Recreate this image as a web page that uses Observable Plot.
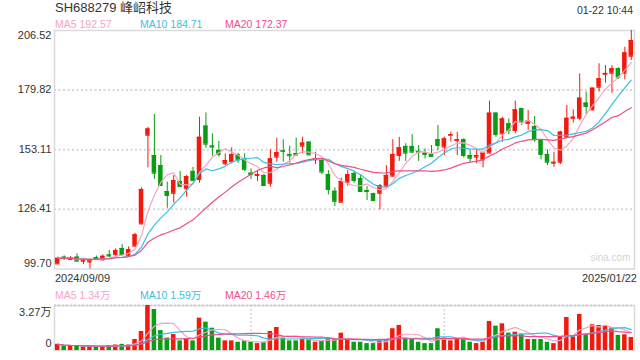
<!DOCTYPE html>
<html><head><meta charset="utf-8">
<script src="https://cdn.jsdelivr.net/npm/d3@7"></script>
<script src="https://cdn.jsdelivr.net/npm/@observablehq/plot@0.6"></script>
<style>
body{margin:0;background:#fff;}
#wrap{position:relative;width:640px;height:360px;font-family:"Liberation Sans",Arial,"Noto Sans CJK SC",sans-serif;overflow:hidden;background:#fff}
.t{position:absolute;white-space:nowrap;line-height:1}
.p{position:absolute;left:0}
</style></head><body>
<div id="wrap">
  <div id="price" class="p" style="top:0"></div>
  <div id="vol" class="p" style="top:300px"></div>
</div>
<script>
const title = "SH688279 峰岹科技";
const timeLabel = "01-22 10:44";
const dateLabels = ["2024/09/09", "2025/01/22"];
const priceMaLabels = ["MA5 192.57", "MA10 184.71", "MA20 172.37"];
const volMaLabels = ["MA5 1.34万", "MA10 1.59万", "MA20 1.46万"];
const maColors = ["#f7a3c4", "#3cc0e2", "#ee4f8a"];
const priceTicks = [99.70, 126.41, 153.11, 179.82, 206.52];
const volTicks = [0, 3.27];

const opens = [102.0,105.0,104.0,105.0,103.2,102.8,104.8,103.8,106.0,106.1,
108.9,105.6,109.9,119.9,159.6,150.5,146.0,134.4,133.6,138.9,
135.6,143.4,139.8,163.7,154.8,152.8,146.8,147.8,150.8,148.6,
142.6,141.6,141.6,138.1,149.8,152.6,151.0,151.4,154.7,156.5,
148.6,148.3,142.0,134.5,129.6,138.6,142.5,140.2,134.8,133.4,
133.6,136.8,141.3,150.5,154.6,154.6,152.4,151.6,151.0,157.6,
154.3,159.6,157.2,157.6,150.5,149.8,148.6,151.6,169.5,160.2,
164.7,161.7,171.5,164.9,163.5,157.2,151.0,147.1,147.5,158.7,
167.2,167.2,174.0,171.0,181.1,186.9,187.4,189.4,187.4,195.0];
const highs = [105.0,105.6,105.3,106.5,104.5,104.3,105.5,106.0,108.0,108.7,
110.7,109.6,115.7,136.0,163.2,168.9,150.5,138.6,141.6,143.4,
141.7,145.2,167.7,169.6,160.2,156.8,151.3,154.0,151.5,151.3,
144.5,143.8,142.0,153.1,158.3,157.6,154.7,158.3,158.7,156.6,
152.0,149.0,143.8,136.0,140.5,143.8,143.5,141.6,136.6,133.7,
137.5,146.0,157.6,158.7,155.8,159.9,155.0,153.5,155.0,164.0,
158.7,161.0,161.0,158.0,152.8,153.1,152.0,174.9,169.6,167.7,
166.9,174.9,171.5,170.7,168.0,157.3,153.1,152.0,161.4,172.9,
171.0,187.1,178.9,180.7,191.6,190.8,190.8,189.9,199.0,206.52];
const lows = [101.7,103.5,103.5,102.8,101.6,99.7,103.8,103.3,104.9,104.9,
105.5,104.9,109.4,119.5,145.0,139.8,137.1,126.9,129.2,136.3,
131.9,139.0,138.1,153.8,150.1,149.8,146.0,146.8,147.1,143.4,
139.8,138.9,137.0,136.3,147.5,147.5,147.1,150.4,151.3,150.6,
146.5,142.0,132.9,127.7,129.5,136.8,138.1,134.1,130.4,130.0,
126.2,136.3,140.8,147.9,147.9,151.8,147.9,149.0,149.8,152.8,
150.5,156.5,150.5,149.5,147.5,146.8,145.0,151.6,158.7,156.5,
159.8,160.2,164.0,161.7,156.5,148.6,146.0,145.3,146.5,158.7,
165.0,166.2,168.9,170.5,178.9,182.9,178.4,184.6,184.4,193.1];
const closes = [104.5,104.4,104.8,103.2,103.7,103.6,104.4,105.4,105.5,108.0,
106.2,108.3,115.0,135.3,162.4,142.6,137.1,132.6,139.3,136.6,
141.1,139.3,158.7,155.6,154.3,151.0,148.3,151.0,148.6,144.3,
142.0,142.0,137.1,149.0,151.8,152.4,150.4,150.7,156.1,150.8,
149.0,143.1,135.3,130.0,138.9,142.0,139.3,134.4,134.4,130.4,
137.1,141.6,151.0,154.0,151.6,152.0,152.0,151.0,150.1,155.0,
158.0,159.9,157.6,150.5,149.3,150.5,151.6,169.5,159.9,166.9,
161.7,171.0,165.9,165.9,157.6,151.0,147.5,147.5,161.0,167.2,
167.7,176.2,172.5,180.7,184.9,187.3,189.4,185.6,196.5,202.0];
const volumes = [0.45,0.35,0.30,0.35,0.25,0.30,0.25,0.30,0.35,0.40,
0.45,0.40,0.80,1.38,3.27,2.98,1.45,0.90,1.16,0.70,
0.80,0.70,2.35,2.06,1.62,0.90,0.70,0.70,0.60,0.70,
0.60,0.50,0.60,1.38,1.67,0.90,0.70,0.70,0.80,0.80,
0.60,0.70,0.90,0.80,1.26,0.80,0.60,0.60,0.50,0.50,
0.80,0.80,1.58,1.82,0.90,0.80,0.60,0.50,0.50,1.58,
0.90,0.70,0.80,0.90,0.60,0.50,0.60,2.11,1.77,1.94,
1.26,1.33,1.16,0.80,0.80,0.80,0.60,0.50,1.00,2.40,
1.00,2.62,1.20,1.87,1.82,1.77,1.65,1.10,1.14,0.95];

const UP = "#f3190c", DOWN = "#0a9c12";
const rows = d3.range(opens.length).map(i => ({
  i, open: opens[i], high: highs[i], low: lows[i], close: closes[i], vol: volumes[i],
  color: closes[i] >= opens[i] ? UP : DOWN
}));
const xScale = {type: "band", domain: rows.map(d => d.i), paddingInner: 0.3, paddingOuter: 0.15, axis: null};
const FONT = '"Liberation Sans", Arial, "Noto Sans CJK SC", sans-serif';
const maK = [5, 10, 20];
const ax = {tickSize: 0, tickPadding: 3, fontSize: 11, label: null};

const price = Plot.plot({
  width: 640, height: 290,
  marginLeft: 54, marginRight: 6, marginTop: 30, marginBottom: 21.5,
  style: {fontFamily: FONT, color: "#333", background: "transparent"},
  x: xScale,
  y: {domain: [priceTicks[0], priceTicks[priceTicks.length - 1]], axis: null, label: null},
  marks: [
    Plot.gridY(priceTicks.slice(1, -1), {stroke: "#d6d6d6", strokeOpacity: 1, strokeWidth: 2, strokeDasharray: "2,2.5"}),
    Plot.frame({stroke: "#dadada", strokeWidth: 1.5}),
    Plot.axisY(priceTicks.slice(1, -1), {...ax, tickFormat: d => d.toFixed(2), dy: -0.5}),
    Plot.axisY([priceTicks[priceTicks.length - 1]], {...ax, tickFormat: d => d.toFixed(2), dy: 5}),
    Plot.axisY([priceTicks[0]], {...ax, tickFormat: d => d.toFixed(2), dy: -5.5}),
    Plot.ruleX(rows, {x: "i", y1: "low", y2: "high", stroke: "color", strokeWidth: 1}),
    Plot.barY(rows, {x: "i", y1: "open", y2: "close", fill: "color"}),
    Plot.tickY(rows, {x: "i", y: "open", stroke: "color", strokeWidth: 1}),
    Plot.tickY(rows, {x: "i", y: "close", stroke: "color", strokeWidth: 1}),
    ...maK.map((k, j) => Plot.lineY(rows, Plot.windowY({k, anchor: "end", reduce: "mean"}, {x: "i", y: "close", stroke: maColors[j], strokeWidth: 1.2}))),
    Plot.text(["sina.com"], {frameAnchor: "bottom-right", dx: -4, dy: -8, fill: "#d4d4d4", fontSize: 10})
  ]
});
document.getElementById("price").appendChild(price);

const vol = Plot.plot({
  width: 640, height: 60,
  marginLeft: 54, marginRight: 6, marginTop: 5, marginBottom: 10,
  style: {fontFamily: FONT, color: "#333", background: "transparent"},
  x: xScale,
  y: {domain: [volTicks[0], volTicks[1]], axis: null, label: null},
  marks: [
    Plot.gridX([30, 60], {stroke: "#d6d6d6", strokeOpacity: 1, strokeWidth: 1.5, strokeDasharray: "2,2"}),
    Plot.frame({stroke: "#dadada", strokeWidth: 1.5}),
    Plot.gridY([volTicks[1]], {stroke: "#d0d0d0", strokeOpacity: 1, strokeWidth: 2, strokeDasharray: "2,2"}),
    Plot.axisY([volTicks[1]], {...ax, tickFormat: d => d.toFixed(2) + "万", dy: 7}),
    Plot.axisY([volTicks[0]], {...ax, tickFormat: d => String(d), dy: -7}),
    Plot.barY(rows, {x: "i", y: "vol", fill: "color"}),
    ...maK.map((k, j) => Plot.lineY(rows, Plot.windowY({k, anchor: "end", reduce: "mean"}, {x: "i", y: "vol", stroke: maColors[j], strokeWidth: 1.2})))
  ]
});
document.getElementById("vol").appendChild(vol);

const wrap = document.getElementById("wrap");
function addText(txt, css) {
  const d = document.createElement("div");
  d.className = "t";
  d.textContent = txt;
  Object.assign(d.style, css);
  wrap.appendChild(d);
}
addText(title, {left: "55px", top: "1px", fontSize: "13px", color: "#333"});
addText(timeLabel, {right: "7px", top: "5px", fontSize: "10.5px", color: "#333"});
const legendX = [55, 140, 225];
priceMaLabels.forEach((t, j) => addText(t, {left: legendX[j] + "px", top: "19px", fontSize: "10.5px", color: maColors[j]}));
volMaLabels.forEach((t, j) => addText(t, {left: legendX[j] + "px", top: "290px", fontSize: "10.5px", color: maColors[j]}));
addText(dateLabels[0], {left: "55px", top: "272.5px", fontSize: "11px", color: "#333"});
addText(dateLabels[1], {right: "3px", top: "272.5px", fontSize: "11px", color: "#333"});
</script>
</body></html>
